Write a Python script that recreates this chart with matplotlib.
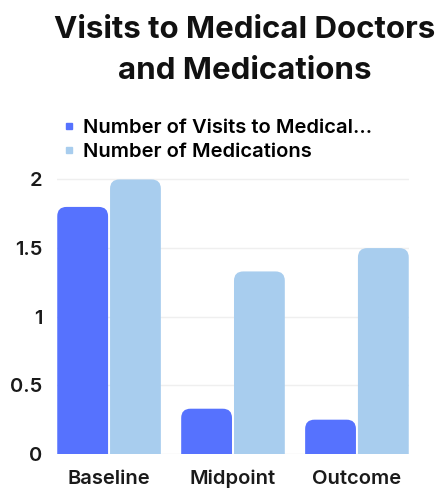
import numpy as np
import matplotlib.pyplot as plt
from matplotlib.patches import FancyBboxPatch
from matplotlib.lines import Line2D

categories = ['Baseline', 'Midpoint', 'Outcome']
visits = [1.8, 0.33, 0.25]
medications = [2.0, 1.33, 1.5]
series_names = ['Number of Visits to Medical...', 'Number of Medications']
y_ticks = [0, 0.5, 1, 1.5, 2]
y_tick_labels = ['0', '0.5', '1', '1.5', '2']

colors = ['#5672fe', '#a8cdee']
font = 'Inter'

fig = plt.figure(figsize=(4.4, 4.9), dpi=100)
ax = fig.add_axes([57 / 440, 36 / 490, 352 / 440, 281.4 / 490])

x = np.arange(len(categories))
width = 0.41
gap = 0.016
bars1 = ax.bar(x - (width + gap) / 2, visits, width, color=colors[0])
bars2 = ax.bar(x + (width + gap) / 2, medications, width, color=colors[1])

ax.set_xlim(-0.42, 2.42)
ax.set_ylim(0, 2.05)

# swap the square bars for ones with rounded tops
radius = 0.075
for bars, c in [(bars1, colors[0]), (bars2, colors[1])]:
    for rect in bars:
        rect.set_visible(False)
        rx, rw, rh = rect.get_x(), rect.get_width(), rect.get_height()
        p = FancyBboxPatch((rx, -0.2), rw, rh + 0.2,
                           boxstyle=f'round,pad=0,rounding_size={radius}',
                           mutation_aspect=0.9, facecolor=c, edgecolor='none',
                           zorder=2)
        ax.add_patch(p)

ax.set_yticks(y_ticks)
ax.set_yticklabels(y_tick_labels)
ax.set_xticks(x)
ax.set_xticklabels(categories)
ax.tick_params(length=0, labelsize=14.5)
ax.tick_params(axis='y', pad=10.5)
ax.tick_params(axis='x', pad=11.5)
for lbl in ax.get_xticklabels() + ax.get_yticklabels():
    lbl.set_fontfamily(font)
    lbl.set_fontweight('semibold')
    lbl.set_color('#1a1a1a')

ax.grid(axis='y', color='#efefef', linewidth=1, zorder=0)
ax.set_axisbelow(True)
for s in ax.spines.values():
    s.set_visible(False)

fig.text(0.557, 0.897, 'Visits to Medical Doctors\nand Medications',
         ha='center', va='center', fontsize=22.5, fontweight='bold',
         family=font, color='#111111', linespacing=1.55)

handles = [Line2D([], [], marker='s', linestyle='none', markersize=4.5,
                  color=c) for c in colors]
leg = fig.legend(handles, series_names, loc='upper left',
                 bbox_to_anchor=(64 / 440, 1 - 119 / 490), frameon=False,
                 handlelength=0.5, handletextpad=0.45, labelspacing=0.3,
                 borderpad=0, borderaxespad=0,
                 prop={'family': font, 'weight': 'semibold', 'size': 14.5})

fig.savefig('out.png', dpi=100)
